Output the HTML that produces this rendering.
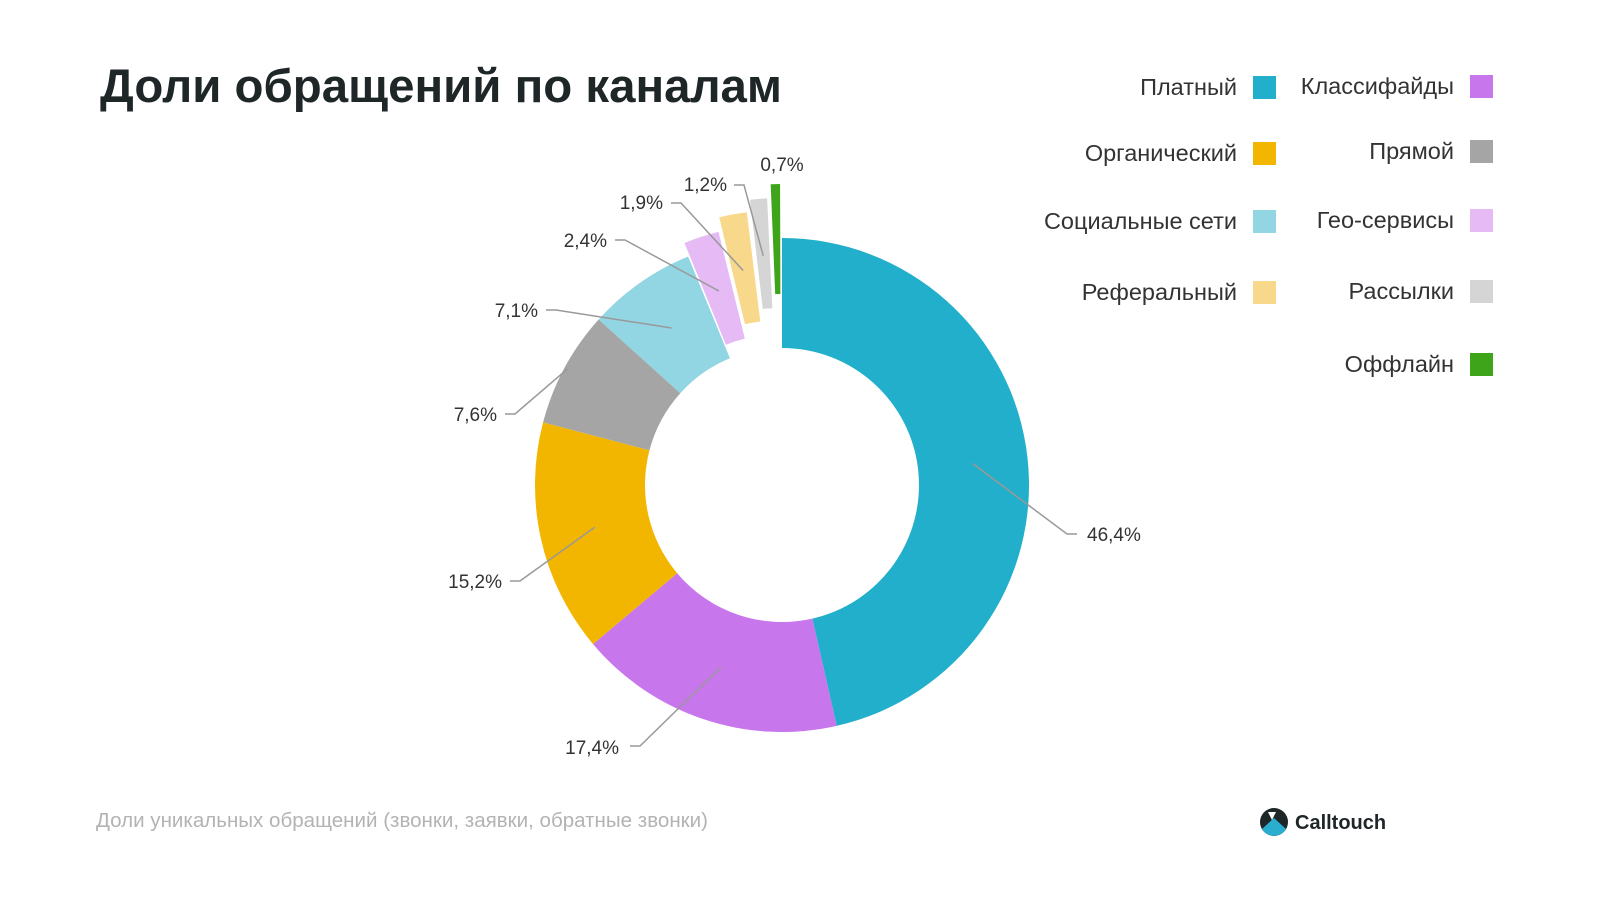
<!DOCTYPE html>
<html><head><meta charset="utf-8"><style>
html,body{margin:0;padding:0;background:#fff}
svg{display:block;font-family:"Liberation Sans",sans-serif}
</style></head><body>
<svg id="chart" width="1600" height="900" viewBox="0 0 1600 900">
<text x="100" y="102" font-size="47" font-weight="bold" fill="#1f2628" textLength="682" lengthAdjust="spacingAndGlyphs">Доли обращений по каналам</text>
<text x="96" y="827" font-size="20" fill="#b3b3b3" textLength="612" lengthAdjust="spacingAndGlyphs">Доли уникальных обращений (звонки, заявки, обратные звонки)</text>
<g>
<circle cx="1274" cy="822" r="14" fill="#1f2628"/>
<path d="M1262,829 L1274,818 L1286,829 A14,14 0 0 1 1262,829 Z" fill="#2aaed0"/>
<path d="M1268,812 L1276,812 L1272,820 Z" fill="#fff"/>
<text x="1295" y="829" font-size="20" font-weight="bold" fill="#1f2628">Calltouch</text>
</g>
<g id="slices"></g><g id="leaders"></g><g id="legend"></g>
</svg>
<script>
const categories=["Платный","Классифайды","Органический","Прямой","Социальные сети","Гео-сервисы","Реферальный","Рассылки","Оффлайн"];
const values=[46.4,17.4,15.2,7.6,7.1,2.4,1.9,1.2,0.7];
const labels=["46,4%","17,4%","15,2%","7,6%","7,1%","2,4%","1,9%","1,2%","0,7%"];
const colors=["#22afcb","#c876ec","#f3b600","#a5a5a5","#92d6e3","#e5baf5","#f8d98c","#d5d5d5","#3ea51b"];
const explode=[0,0,0,0,0,14,28,40,54];
const leaderRad=[192,192,192,244,192,190,190,190,0];
const labelPos=[[1087,541,"start",1077,534],[619,754,"end",630,746],[502,588,"end",510,581],[497,421,"end",505,414],[538,317,"end",546,310],[607,247,"end",615,240],[663,209,"end",671,203],[727,191,"end",734,185],[782,171,"middle",null,null]];
const legendPos=[[1253,87],[1253,153],[1253,221],[1253,292],[1470,86],[1470,151],[1470,220],[1470,291],[1470,364]];
const legendOrder=[0,2,4,6,1,3,5,7,8];
const cx=782,cy=485,R=247,r=137;
const NS="http://www.w3.org/2000/svg";
const total=values.reduce((a,b)=>a+b,0);
function pt(a,rad,dx,dy){return [cx+dx+rad*Math.sin(a),cy+dy-rad*Math.cos(a)];}
let acc=0;
const sg=document.getElementById('slices'),lg=document.getElementById('leaders'),leg=document.getElementById('legend');
values.forEach((v,i)=>{
  let a0=acc/total*2*Math.PI;acc+=v;let a1=acc/total*2*Math.PI;
  const mid=(a0+a1)/2,e=explode[i];
  const dx=e*Math.sin(mid),dy=-e*Math.cos(mid);
  if(e>0){const pad=0.003;a0+=pad;a1-=pad;}
  const p1=pt(a0,R,dx,dy),p2=pt(a1,R,dx,dy),p3=pt(a1,r,dx,dy),p4=pt(a0,r,dx,dy);
  const lf=(a1-a0)>Math.PI?1:0;
  const p=document.createElementNS(NS,'path');
  p.setAttribute('d',`M${p1} A${R},${R} 0 ${lf} 1 ${p2} L${p3} A${r},${r} 0 ${lf} 0 ${p4} Z`);
  p.setAttribute('fill',colors[i]);
  
  
  sg.appendChild(p);
  const lp=labelPos[i];
  if(lp[3]!==null){
    const s=pt(mid,leaderRad[i],dx,dy);
    const l=document.createElementNS(NS,'polyline');
    const kx=lp[2]==="start"?lp[3]-10:lp[3]+10;
    l.setAttribute('points',`${s} ${kx},${lp[4]} ${lp[3]},${lp[4]}`);
    l.setAttribute('fill','none');l.setAttribute('stroke','#999');l.setAttribute('stroke-width','1.5');
    
    
    lg.appendChild(l);
  }
  const t=document.createElementNS(NS,'text');
  t.setAttribute('x',lp[0]);t.setAttribute('y',lp[1]);t.setAttribute('text-anchor',lp[2]);
  t.setAttribute('font-size','19');t.setAttribute('fill','#333');
  t.textContent=labels[i];
  
  
  lg.appendChild(t);
});
legendOrder.forEach((ci,k)=>{
  const [x,y]=legendPos[k];
  const g=document.createElementNS(NS,'g');
  
  
  const t=document.createElementNS(NS,'text');
  t.setAttribute('x',x-16);t.setAttribute('y',y+8);t.setAttribute('text-anchor','end');
  t.setAttribute('font-size','23.5');t.setAttribute('fill','#333');t.textContent=categories[ci];
  const s=document.createElementNS(NS,'rect');
  s.setAttribute('x',x);s.setAttribute('y',y-11);s.setAttribute('width',23);s.setAttribute('height',23);
  s.setAttribute('fill',colors[ci]);
  g.appendChild(t);g.appendChild(s);leg.appendChild(g);
});
</script>
</body></html>
